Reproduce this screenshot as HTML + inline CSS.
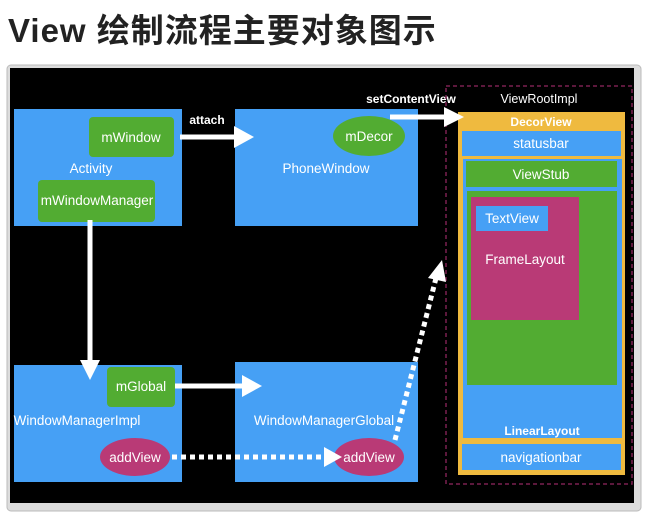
<!DOCTYPE html>
<html><head><meta charset="utf-8"><style>
body{margin:0;width:651px;height:524px;background:#fff;overflow:hidden;font-family:"Liberation Sans","Noto Sans CJK SC",sans-serif}
.t{position:absolute;left:8px;top:4px;font-size:33px;font-weight:bold;color:#222;letter-spacing:1px}
</style></head><body>
<div class="t">View 绘制流程主要对象图示</div>
<svg width="651" height="524" style="position:absolute;left:0;top:0" font-family="Liberation Sans, sans-serif">
<rect x="7" y="65" width="634" height="446" rx="4" fill="#ddd" stroke="#bbb"/>
<rect x="10" y="68" width="624" height="435" fill="#000"/>
<g fill="#46a0f5">
<rect x="14" y="109" width="168" height="117"/>
<rect x="235" y="109" width="183" height="117"/>
<rect x="14" y="365" width="168" height="117"/>
<rect x="235" y="362" width="183" height="120"/>
</g>
<g fill="#52ac32">
<rect x="89" y="117" width="85" height="40" rx="4"/>
<rect x="38" y="180" width="117" height="42" rx="4"/>
<rect x="107" y="367" width="68" height="40" rx="4"/>
<ellipse cx="369" cy="136" rx="36" ry="20"/>
</g>
<g fill="#b93a76"><ellipse cx="135" cy="457" rx="35" ry="19"/><ellipse cx="369" cy="457" rx="35" ry="19"/></g>
<g fill="#fff" font-size="13.5" text-anchor="middle">
<text x="131" y="142">mWindow</text>
<text x="97" y="205">mWindowManager</text>
<text x="91" y="173">Activity</text>
<text x="369" y="141">mDecor</text>
<text x="326" y="173">PhoneWindow</text>
<text x="141" y="391">mGlobal</text>
<text x="77" y="425">WindowManagerImpl</text>
<text x="324" y="425">WindowManagerGlobal</text>
<text x="135" y="462">addView</text>
<text x="369" y="462">addView</text>
<text x="207" y="124" font-size="12" font-weight="bold">attach</text>
<text x="411" y="103" font-size="12" font-weight="bold">setContentView</text>
<text x="539" y="103" font-size="12.5">ViewRootImpl</text>
</g>
<rect x="446" y="86" width="186" height="398" fill="none" stroke="#7a2050" stroke-width="1.5" stroke-dasharray="4,3"/>
<rect x="458" y="112" width="167" height="363" fill="#efba3f"/>
<rect x="462" y="131" width="159" height="25" fill="#46a0f5"/>
<rect x="463" y="159" width="159" height="279" fill="#46a0f5"/>
<rect x="466" y="161" width="151" height="26" fill="#52ac32"/>
<rect x="467" y="191" width="150" height="194" fill="#52ac32"/>
<rect x="471" y="197" width="108" height="123" fill="#b93a76"/>
<rect x="476" y="206" width="72" height="25" fill="#46a0f5"/>
<rect x="462" y="444" width="159" height="26" fill="#46a0f5"/>
<g fill="#fff" font-size="13.5" text-anchor="middle">
<text x="541" y="126" font-weight="bold" font-size="12">DecorView</text>
<text x="541" y="148">statusbar</text>
<text x="541" y="179">ViewStub</text>
<text x="512" y="223">TextView</text>
<text x="525" y="264">FrameLayout</text>
<text x="542" y="435" font-weight="bold" font-size="12">LinearLayout</text>
<text x="541" y="462">navigationbar</text>
</g>
<g stroke="#fff" stroke-width="5" fill="#fff">
<line x1="180" y1="137" x2="236" y2="137"/>
<line x1="390" y1="117" x2="446" y2="117"/>
<line x1="90" y1="220" x2="90" y2="362"/>
<line x1="175" y1="386" x2="244" y2="386"/>
<line x1="172" y1="457" x2="326" y2="457" stroke-dasharray="5,4"/>
<line x1="395" y1="440" x2="436" y2="278" stroke-dasharray="5,4"/>
</g>
<g fill="#fff">
<polygon points="234,126 254,137 234,148"/>
<polygon points="444,107 464,117 444,127"/>
<polygon points="80,360 90,380 100,360"/>
<polygon points="242,375 262,386 242,397"/>
<polygon points="324,447 342,457 324,467"/>
<polygon points="428,278 442,260 446,282"/>
</g>
</svg>
</body></html>
